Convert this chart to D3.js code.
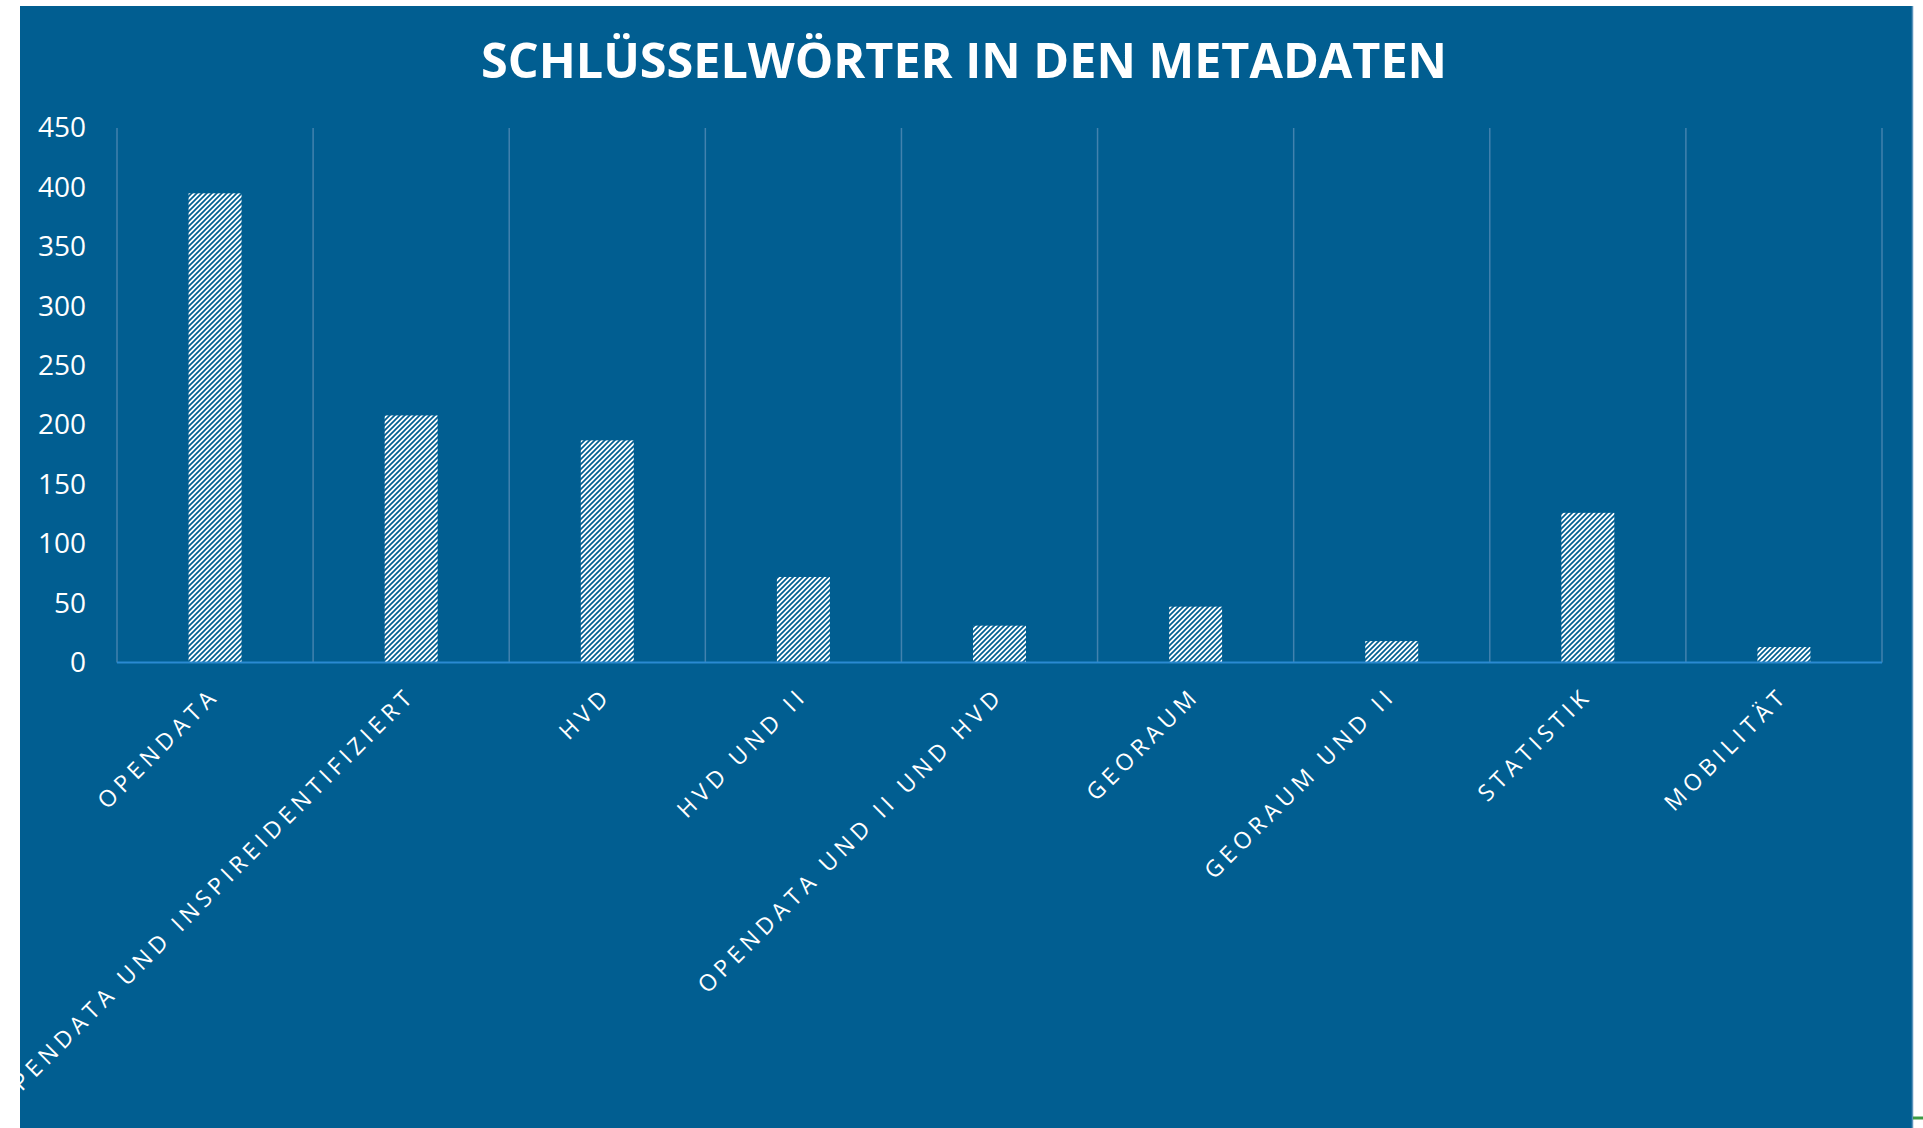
<!DOCTYPE html>
<html>
<head>
<meta charset="utf-8">
<script src="https://cdn.jsdelivr.net/npm/d3@7"></script>
<style>
  html, body { margin: 0; padding: 0; background: #ffffff; }
  svg { display: block; }
</style>
</head>
<body>
<script>
// ---- data ----
const categories = [
  "OPENDATA",
  "OPENDATA UND INSPIREIDENTIFIZIERT",
  "HVD",
  "HVD UND II",
  "OPENDATA UND II UND HVD",
  "GEORAUM",
  "GEORAUM UND II",
  "STATISTIK",
  "MOBILITÄT"
];
const values = [395, 208, 187, 72, 31, 47, 18, 126, 13];
const yTicks = [0, 50, 100, 150, 200, 250, 300, 350, 400, 450];
const titleText = "SCHLÜSSELWÖRTER IN DEN METADATEN";

// ---- layout ----
const W = 1923, H = 1128;
const bg = "#015E91";
const panel = { x: 20, y: 6, w: 1892, h: 1122 };
const plot = { left: 117, right: 1882, top: 128, bottom: 662.5 };

const svg = d3.select("body").append("svg")
  .attr("width", W).attr("height", H);

const defs = svg.append("defs");
const pat = defs.append("pattern")
  .attr("id", "hatch").attr("patternUnits", "userSpaceOnUse")
  .attr("width", 5).attr("height", 5);
pat.append("rect").attr("width", 5).attr("height", 5).attr("fill", "#ffffff");
pat.append("path")
  .attr("d", "M-1,1 L1,-1 M0,5 L5,0 M4,6 L6,4")
  .attr("stroke", bg).attr("stroke-width", 1.7);

defs.append("clipPath").attr("id", "panelClip")
  .append("rect").attr("x", panel.x).attr("y", panel.y)
  .attr("width", panel.w).attr("height", panel.h);

// panel background
svg.append("rect")
  .attr("x", panel.x).attr("y", panel.y)
  .attr("width", panel.w).attr("height", panel.h)
  .attr("fill", bg);
svg.append("line")
  .attr("x1", panel.x + panel.w + 0.5).attr("x2", panel.x + panel.w + 0.5)
  .attr("y1", panel.y).attr("y2", H)
  .attr("stroke", "#5b93bb").attr("stroke-width", 1.5);
svg.append("line")
  .attr("x1", panel.x + panel.w + 1).attr("x2", W)
  .attr("y1", 1118).attr("y2", 1118)
  .attr("stroke", "#3c9a45").attr("stroke-width", 3);

// title
svg.append("text")
  .attr("x", 481).attr("y", 78)
  .attr("textLength", 966).attr("lengthAdjust", "spacingAndGlyphs")
  .attr("font-family", "'Open Sans', 'Noto Sans', sans-serif")
  .attr("font-weight", 700).attr("font-size", 48)
  .attr("fill", "#ffffff")
  .text(titleText);

// scales
const y = d3.scaleLinear().domain([0, 450]).range([plot.bottom, plot.top]);
const xSlots = d3.scaleBand().domain(categories).range([plot.left, plot.right]).padding(0);
const x = d3.scaleBand().domain(categories).range([plot.left, plot.right])
  .paddingInner(0.73).paddingOuter(0.365);

// vertical gridlines at category boundaries
const boundaries = categories.map(c => xSlots(c)).concat([xSlots(categories[categories.length - 1]) + xSlots.bandwidth()]);
svg.append("g").selectAll("line").data(boundaries).join("line")
  .attr("x1", d => d).attr("x2", d => d)
  .attr("y1", y(450)).attr("y2", y(0))
  .attr("stroke", "#4282ae").attr("stroke-width", 1.5);

// bars
svg.append("g").selectAll("rect").data(values).join("rect")
  .attr("x", (d, i) => x(categories[i]))
  .attr("width", x.bandwidth())
  .attr("y", d => y(d))
  .attr("height", d => y(0) - y(d))
  .attr("fill", "url(#hatch)");

// x axis baseline
svg.append("line")
  .attr("x1", plot.left).attr("x2", plot.right)
  .attr("y1", y(0)).attr("y2", y(0))
  .attr("stroke", "#2a8ad2").attr("stroke-width", 2);

// y axis labels
const yAxis = d3.axisLeft(y).tickValues(yTicks).tickSize(0).tickPadding(31);
const gy = svg.append("g").attr("transform", `translate(${plot.left},0)`).call(yAxis);
gy.select(".domain").remove();
gy.selectAll("text")
  .attr("font-family", "'Open Sans', 'Noto Sans', sans-serif")
  .attr("font-size", 28).attr("fill", "#ffffff");

// x axis labels (rotated)
const ls = 5;
const gx = svg.append("g").attr("clip-path", "url(#panelClip)");
gx.selectAll("text").data(categories).join("text")
  .attr("transform", c => `translate(${xSlots(c) + xSlots.bandwidth() / 2 + 2},${y(0) + 38}) rotate(-45)`)
  .attr("x", ls)
  .attr("text-anchor", "end")
  .attr("font-family", "'Open Sans', 'Noto Sans', sans-serif")
  .attr("font-size", 23)
  .attr("letter-spacing", ls)
  .attr("fill", "#ffffff")
  .text(c => c);
</script>
</body>
</html>
